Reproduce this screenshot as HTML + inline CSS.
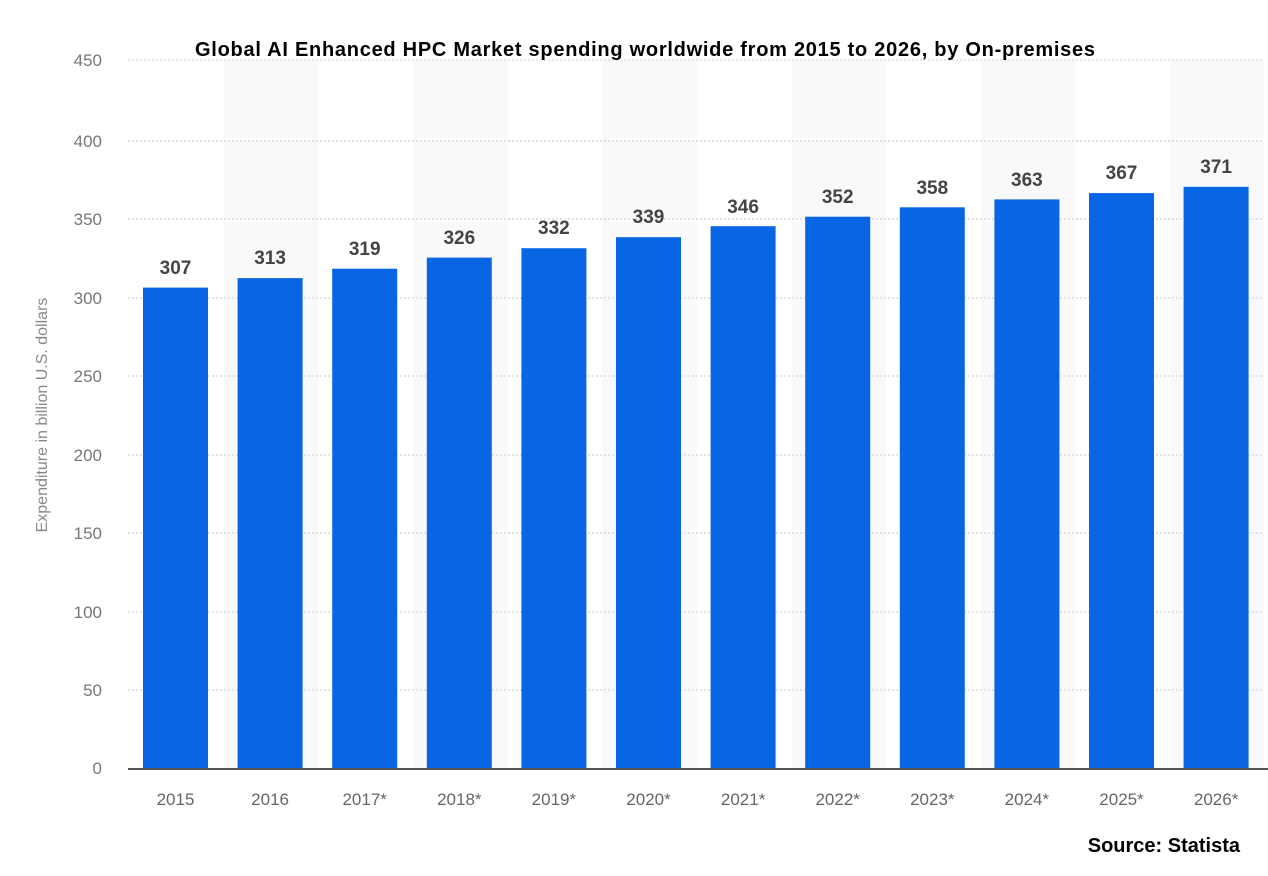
<!DOCTYPE html>
<html><head><meta charset="utf-8"><style>body{margin:0;background:#fff}svg{display:block}</style></head>
<body>
<svg width="1268" height="876" xmlns="http://www.w3.org/2000/svg" font-family="Liberation Sans, sans-serif">
<g fill="#f9f9f9">
<rect x="224" y="60" width="94.6" height="709"/>
<rect x="413.2" y="60" width="94.6" height="709"/>
<rect x="602.4" y="60" width="94.6" height="709"/>
<rect x="791.6" y="60" width="94.6" height="709"/>
<rect x="980.8" y="60" width="94.6" height="709"/>
<rect x="1170" y="60" width="94.6" height="709"/>
</g>
<g stroke="#dcdcdc" stroke-width="1.5" stroke-dasharray="2,2">
<line x1="128" x2="1262" y1="60" y2="60"/><line x1="128" x2="1262" y1="141" y2="141"/>
<line x1="128" x2="1262" y1="219" y2="219"/><line x1="128" x2="1262" y1="298" y2="298"/>
<line x1="128" x2="1262" y1="376" y2="376"/><line x1="128" x2="1262" y1="455" y2="455"/>
<line x1="128" x2="1262" y1="533" y2="533"/><line x1="128" x2="1262" y1="612" y2="612"/>
<line x1="128" x2="1262" y1="690" y2="690"/>
</g>
<g fill="#777" font-size="17" text-anchor="end">
<text x="102" y="66">450</text><text x="102" y="147">400</text><text x="102" y="225">350</text>
<text x="102" y="304">300</text><text x="102" y="382">250</text><text x="102" y="461">200</text>
<text x="102" y="539">150</text><text x="102" y="618">100</text><text x="102" y="696">50</text>
<text x="102" y="774">0</text>
</g>
<text transform="translate(47,415) rotate(-90)" fill="#888" font-size="16" text-anchor="middle">Expenditure in billion U.S. dollars</text>
<g fill="#0866e4">
<rect x="143" y="287.6" width="65" height="481.4"/>
<rect x="237.6" y="278.1" width="65" height="490.9"/>
<rect x="332.2" y="268.7" width="65" height="500.3"/>
<rect x="426.8" y="257.6" width="65" height="511.4"/>
<rect x="521.4" y="248.2" width="65" height="520.8"/>
<rect x="616" y="237.2" width="65" height="531.8"/>
<rect x="710.6" y="226.2" width="65" height="542.8"/>
<rect x="805.2" y="216.7" width="65" height="552.3"/>
<rect x="899.8" y="207.3" width="65" height="561.7"/>
<rect x="994.4" y="199.4" width="65" height="569.6"/>
<rect x="1089" y="193.1" width="65" height="575.9"/>
<rect x="1183.6" y="186.8" width="65" height="582.2"/>
</g>
<g fill="#444" font-size="19" font-weight="bold" text-anchor="middle">
<text x="175.5" y="274">307</text><text x="270.1" y="264">313</text><text x="364.7" y="255">319</text>
<text x="459.3" y="244">326</text><text x="553.9" y="234">332</text><text x="648.5" y="223">339</text>
<text x="743.1" y="213">346</text><text x="837.7" y="203">352</text><text x="932.3" y="194">358</text>
<text x="1026.9" y="186">363</text><text x="1121.5" y="179">367</text><text x="1216.1" y="173">371</text>
</g>
<g fill="#666" font-size="17" text-anchor="middle">
<text x="175.5" y="805">2015</text><text x="270.1" y="805">2016</text><text x="364.7" y="805">2017*</text>
<text x="459.3" y="805">2018*</text><text x="553.9" y="805">2019*</text><text x="648.5" y="805">2020*</text>
<text x="743.1" y="805">2021*</text><text x="837.7" y="805">2022*</text><text x="932.3" y="805">2023*</text>
<text x="1026.9" y="805">2024*</text><text x="1121.5" y="805">2025*</text><text x="1216.1" y="805">2026*</text>
</g>
<line x1="128" x2="1268" y1="769" y2="769" stroke="#555" stroke-width="2"/>
<text x="645" y="56" font-size="20" font-weight="bold" text-anchor="middle" fill="#000" textLength="900">Global AI Enhanced HPC Market spending worldwide from 2015 to 2026, by On-premises</text>
<text x="1240" y="852" font-size="20" font-weight="bold" text-anchor="end" fill="#000">Source: Statista</text>
</svg>
</body></html>
